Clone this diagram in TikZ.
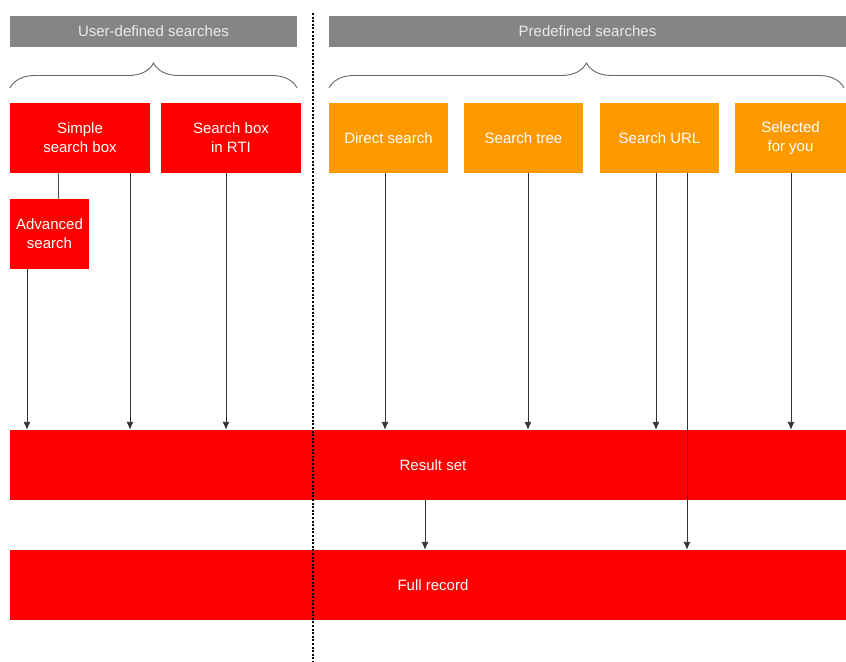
\documentclass[tikz,border=0pt]{standalone}
\usepackage{fontspec}
\setmainfont{Liberation Sans}
\usetikzlibrary{arrows.meta,calc,decorations.pathreplacing}
\definecolor{boxred}{HTML}{FF0000}
\definecolor{boxorange}{HTML}{FF9900}
\definecolor{headgray}{HTML}{858585}
\begin{document}
\begin{tikzpicture}[
		x=1bp, y=-1bp,
		every node/.style={font=\fontsize{15bp}{19bp}\selectfont, text=white, align=center},
		arrow/.style={-{Latex[length=8bp,width=7bp]}, draw=black!80, line width=0.9bp},
		link/.style={draw=black!70, line width=0.9bp},
		head/.style={fill=headgray, text=white!92!black, minimum height=31bp},
		block/.style={fill=boxred, minimum height=70bp, minimum width=140bp},
		preset/.style={fill=boxorange, minimum height=70bp, minimum width=119bp},
		bar/.style={fill=boxred, minimum height=70bp, minimum width=836bp},
		brace/.style={decorate, decoration={brace, amplitude=25bp}, draw=black!60, line width=0.9bp},
	]
		\useasboundingbox (0,0) rectangle (846,662);
		
		\node at (153.5,31.5) (user) [head, minimum width=287bp] {User-defined searches};
		\node at (587.5,31.5) (pre) [head, minimum width=517bp] {Predefined searches};
		
		\draw[brace] (10,88) -- (297,88);
		\draw[brace] (329,88) -- (844,88);
		
		\node at (80,138) (simple) [block] {Simple\\search box};
		\node at (231,138) (rti) [block] {Search box\\in RTI};
		\node at (49.5,234) (adv) [block, minimum width=79bp] {Advanced\\search};
		
		\node at (388.5,138) (direct) [preset] {Direct search};
		\node at (523.5,138) (tree) [preset] {Search tree};
		\node at (659.5,138) (url) [preset] {Search URL};
		\node at (790.5,138) (selected) [preset, minimum width=111bp] {Selected\\for you};
		
		\node at (428,465) (result) [bar] {\hspace*{10bp}Result set};
		\node at (428,585) (full) [bar] {\hspace*{10bp}Full record};
		
		\coordinate (top) at (313,13);
		\coordinate (bottom) at (313,662);
		\draw[line width=2.5bp, dash pattern=on 2bp off 1.6bp] (top) -- (bottom);
		
		\draw[link] ([xshift=-22bp]simple.south) -- ([xshift=-22bp]simple.south |- adv.north);
		\draw[arrow] ([xshift=-22.5bp]adv.south) -- ([xshift=-22.5bp]adv.south |- result.north);
		\draw[arrow] ([xshift=50bp]simple.south) -- ([xshift=50bp]simple.south |- result.north);
		\draw[arrow] ([xshift=-5bp]rti.south) -- ([xshift=-5bp]rti.south |- result.north);
		\draw[arrow] ([xshift=-3.5bp]direct.south) -- ([xshift=-3.5bp]direct.south |- result.north);
		\draw[arrow] ([xshift=4.5bp]tree.south) -- ([xshift=4.5bp]tree.south |- result.north);
		\draw[arrow] ([xshift=-3.5bp]url.south) -- ([xshift=-3.5bp]url.south |- result.north);
		\draw[arrow] ([xshift=27.5bp]url.south) -- ([xshift=27.5bp]url.south |- full.north);
		\draw[arrow] ([xshift=0.5bp]selected.south) -- ([xshift=0.5bp]selected.south |- result.north);
		\draw[arrow] ([xshift=-3bp]result.south) -- ([xshift=-3bp]result.south |- full.north);
	\end{tikzpicture}
\end{document}
